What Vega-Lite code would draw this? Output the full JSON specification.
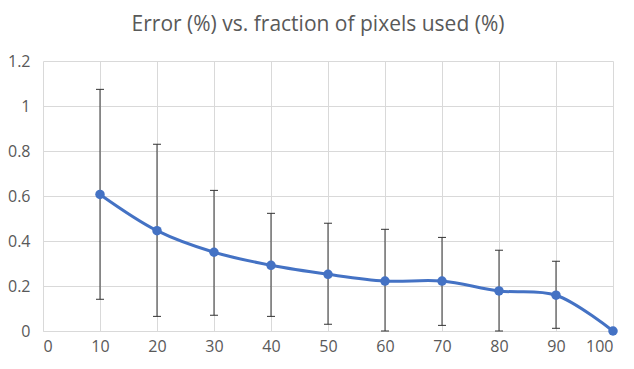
{
  "$schema": "https://vega.github.io/schema/vega-lite/v6.json",
  "autosize": "none",
  "width": 570,
  "height": 270,
  "padding": {"left": 43, "top": 61, "right": 21, "bottom": 38},
  "background": "white",
  "title": {
    "text": "Error (%) vs. fraction of pixels used (%)",
    "font": "Open Sans",
    "fontSize": 21,
    "fontWeight": "normal",
    "color": "#595959",
    "anchor": "middle",
    "dx": -10,
    "offset": 18
  },
  "config": {
    "view": {"stroke": null},
    "axis": {
      "labelFont": "Open Sans",
      "labelFontSize": 16,
      "labelColor": "#595959",
      "gridColor": "#D9D9D9",
      "gridWidth": 1,
      "ticks": false,
      "tickSize": 0
    },
    "axisX": {"labelFontSize": 16},
    "axisY": {"labelFontSize": 16}
  },
  "data": {
    "values": [
      {"x": 10, "y": 0.607, "lo": 0.141, "hi": 1.074},
      {"x": 20, "y": 0.446, "lo": 0.065, "hi": 0.830},
      {"x": 30, "y": 0.350, "lo": 0.070, "hi": 0.625},
      {"x": 40, "y": 0.292, "lo": 0.065, "hi": 0.523},
      {"x": 50, "y": 0.252, "lo": 0.030, "hi": 0.479},
      {"x": 60, "y": 0.222, "lo": 0.000, "hi": 0.452},
      {"x": 70, "y": 0.222, "lo": 0.025, "hi": 0.416},
      {"x": 80, "y": 0.178, "lo": 0.000, "hi": 0.359},
      {"x": 90, "y": 0.159, "lo": 0.012, "hi": 0.310},
      {"x": 100, "y": 0.0, "lo": 0.0, "hi": 0.0}
    ]
  },
  "encoding": {
    "x": {
      "field": "x",
      "type": "quantitative",
      "title": null,
      "scale": {"domain": [0, 100], "nice": false, "zero": true},
      "axis": {
        "title": null,
        "values": [0, 10, 20, 30, 40, 50, 60, 70, 80, 90, 100],
        "domain": true,
        "domainColor": "#D9D9D9",
        "labelFontSize": 16,
        "labelPadding": 7,
        "grid": true
      }
    }
  },
  "layer": [
    {
      "transform": [{"filter": "datum.x < 100"}],
      "mark": {
        "type": "errorbar",
        "ticks": {"size": 8, "thickness": 1, "color": "#333333", "opacity": 1},
        "rule": {"color": "#333333", "opacity": 1, "strokeWidth": 1},
        "color": "#333333",
        "thickness": 1
      },
      "encoding": {
        "y": {
          "field": "lo",
          "type": "quantitative",
          "title": null,
          "scale": {"domain": [0, 1.2], "nice": false},
          "axis": {
            "title": null,
            "values": [0, 0.2, 0.4, 0.6, 0.8, 1, 1.2],
            "format": "~g",
            "domain": false,
            "grid": true,
            "labelFontSize": 16,
            "labelPadding": 13
          }
        },
        "y2": {"field": "hi"}
      }
    },
    {
      "mark": {
        "type": "line",
        "interpolate": "catmull-rom",
        "color": "#4472C4",
        "strokeWidth": 3
      },
      "encoding": {"y": {"field": "y", "type": "quantitative", "title": null}}
    },
    {
      "mark": {
        "type": "point",
        "filled": true,
        "shape": "circle",
        "size": 90,
        "color": "#4472C4",
        "opacity": 1
      },
      "encoding": {"y": {"field": "y", "type": "quantitative", "title": null}}
    }
  ]
}
